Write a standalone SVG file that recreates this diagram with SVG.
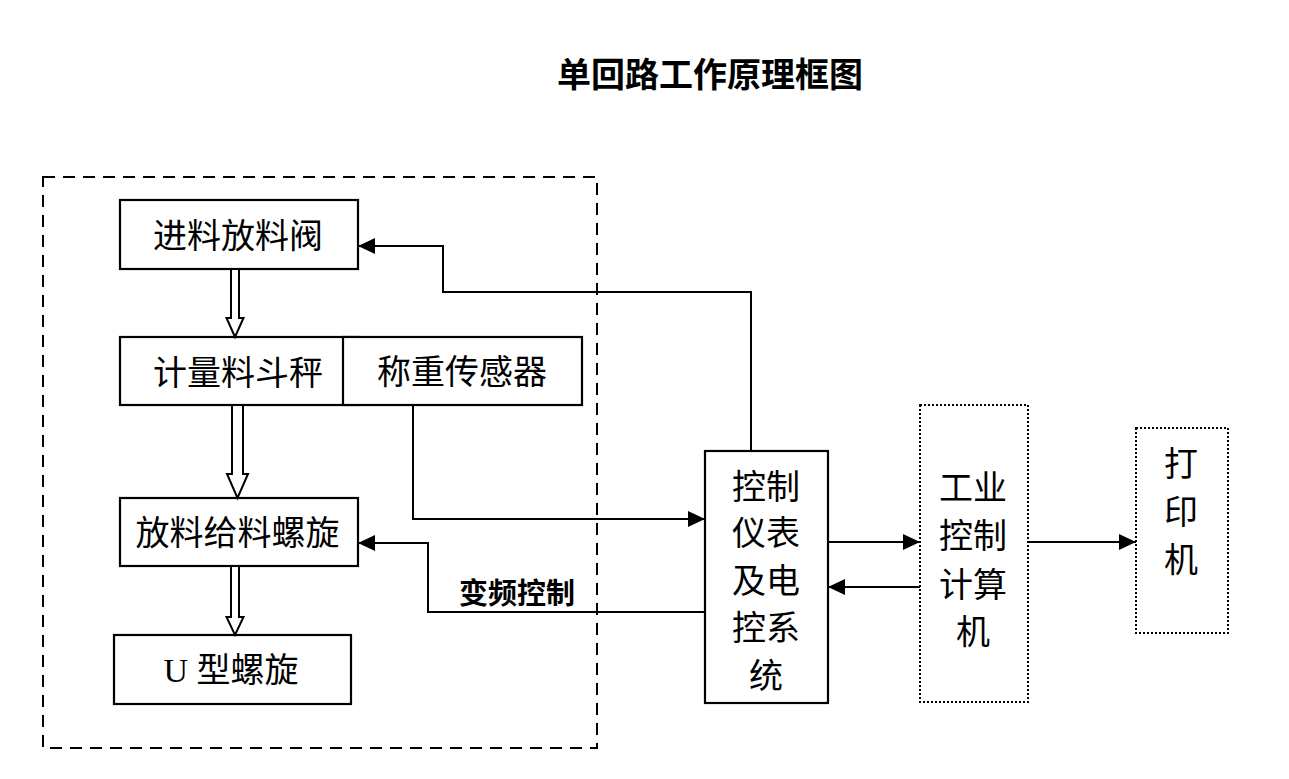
<svg xmlns="http://www.w3.org/2000/svg" width="1289" height="779" viewBox="0 0 1289 779">
<style>
.box{fill:#fff;stroke:#000;stroke-width:2.2}
.dot{fill:#fff;stroke:#000;stroke-width:2;stroke-dasharray:2 2}
.hol{fill:#fff;stroke:#000;stroke-width:2;stroke-linejoin:miter}
.t{font-family:"Noto Sans CJK SC","Noto Sans",sans-serif;font-size:34px;fill:#000;text-anchor:middle}
.u{font-family:"Liberation Serif","Noto Sans CJK SC",serif}
.b{font-family:"Noto Sans CJK SC","Noto Sans",sans-serif;font-weight:bold;fill:#000;text-anchor:middle}
.ln{fill:none;stroke:#000;stroke-width:2}
</style>
<defs>
<marker id="ah" markerUnits="userSpaceOnUse" markerWidth="18" markerHeight="16" refX="17" refY="8" orient="auto">
<path d="M0,0 L17,8 L0,16 z" fill="#000"/>
</marker>
</defs>
<rect width="1289" height="779" fill="#fff"/>
<text class="b" x="710" y="87" font-size="34">单回路工作原理框图</text>
<rect id="container" x="43" y="177" width="554" height="571" fill="none" stroke="#000" stroke-width="2" stroke-dasharray="12 8"/>
<g id="valve"><rect class="box" x="120" y="200" width="238" height="69"/><text class="t" x="238" y="248">进料放料阀</text></g>
<g id="hopper"><rect class="box" x="120" y="337" width="238" height="68"/><text class="t" x="238" y="385">计量料斗秤</text></g>
<g id="sensor"><rect class="box" x="343" y="337" width="239" height="68"/><text class="t" x="462" y="384">称重传感器</text></g>
<g id="feeder"><rect class="box" x="120" y="498" width="238" height="68"/><text class="t" x="237.5" y="545">放料给料螺旋</text></g>
<g id="uscrew"><rect class="box" x="114" y="635" width="237" height="69"/><text class="t u" x="231" y="682">U 型螺旋</text></g>
<g id="control"><rect class="box" x="705" y="451" width="123" height="252"/>
<text class="t" x="766" y="499">控制</text><text class="t" x="766" y="545">仪表</text><text class="t" x="766" y="593">及电</text><text class="t" x="766" y="640">控系</text><text class="t" x="766" y="688">统</text></g>
<g id="ipc"><rect class="dot" x="920" y="405" width="108" height="297"/>
<text class="t" x="973" y="500">工业</text><text class="t" x="973" y="548">控制</text><text class="t" x="973" y="597">计算</text><text class="t" x="973" y="644">机</text></g>
<g id="printer"><rect class="dot" x="1136" y="428" width="92" height="205"/>
<text class="t" x="1181" y="476">打</text><text class="t" x="1181" y="524">印</text><text class="t" x="1181" y="572">机</text></g>
<g id="connectors">
<polygon class="hol" points="231,269 231,318 226.5,318 235,337 243.5,318 239,318 239,269"/>
<polygon class="hol" points="232,405 232,474 227,474 237.5,498 248,474 243,474 243,405"/>
<polygon class="hol" points="231,566 231,617 226.5,617 235,635 243.5,617 239,617 239,566"/>
<path class="ln" d="M413,405 V519 H705" marker-end="url(#ah)"/>
<path class="ln" d="M751,451 V292 H443 V246 H358" marker-end="url(#ah)"/>
<path class="ln" d="M705,612 H428 V543 H358" marker-end="url(#ah)"/>
<path class="ln" d="M828,542 H920" marker-end="url(#ah)"/>
<path class="ln" d="M920,587 H828" marker-end="url(#ah)"/>
<path class="ln" d="M1028,542 H1136" marker-end="url(#ah)"/>
<text class="b" x="517" y="604" font-size="29">变频控制</text>
</g>
</svg>
